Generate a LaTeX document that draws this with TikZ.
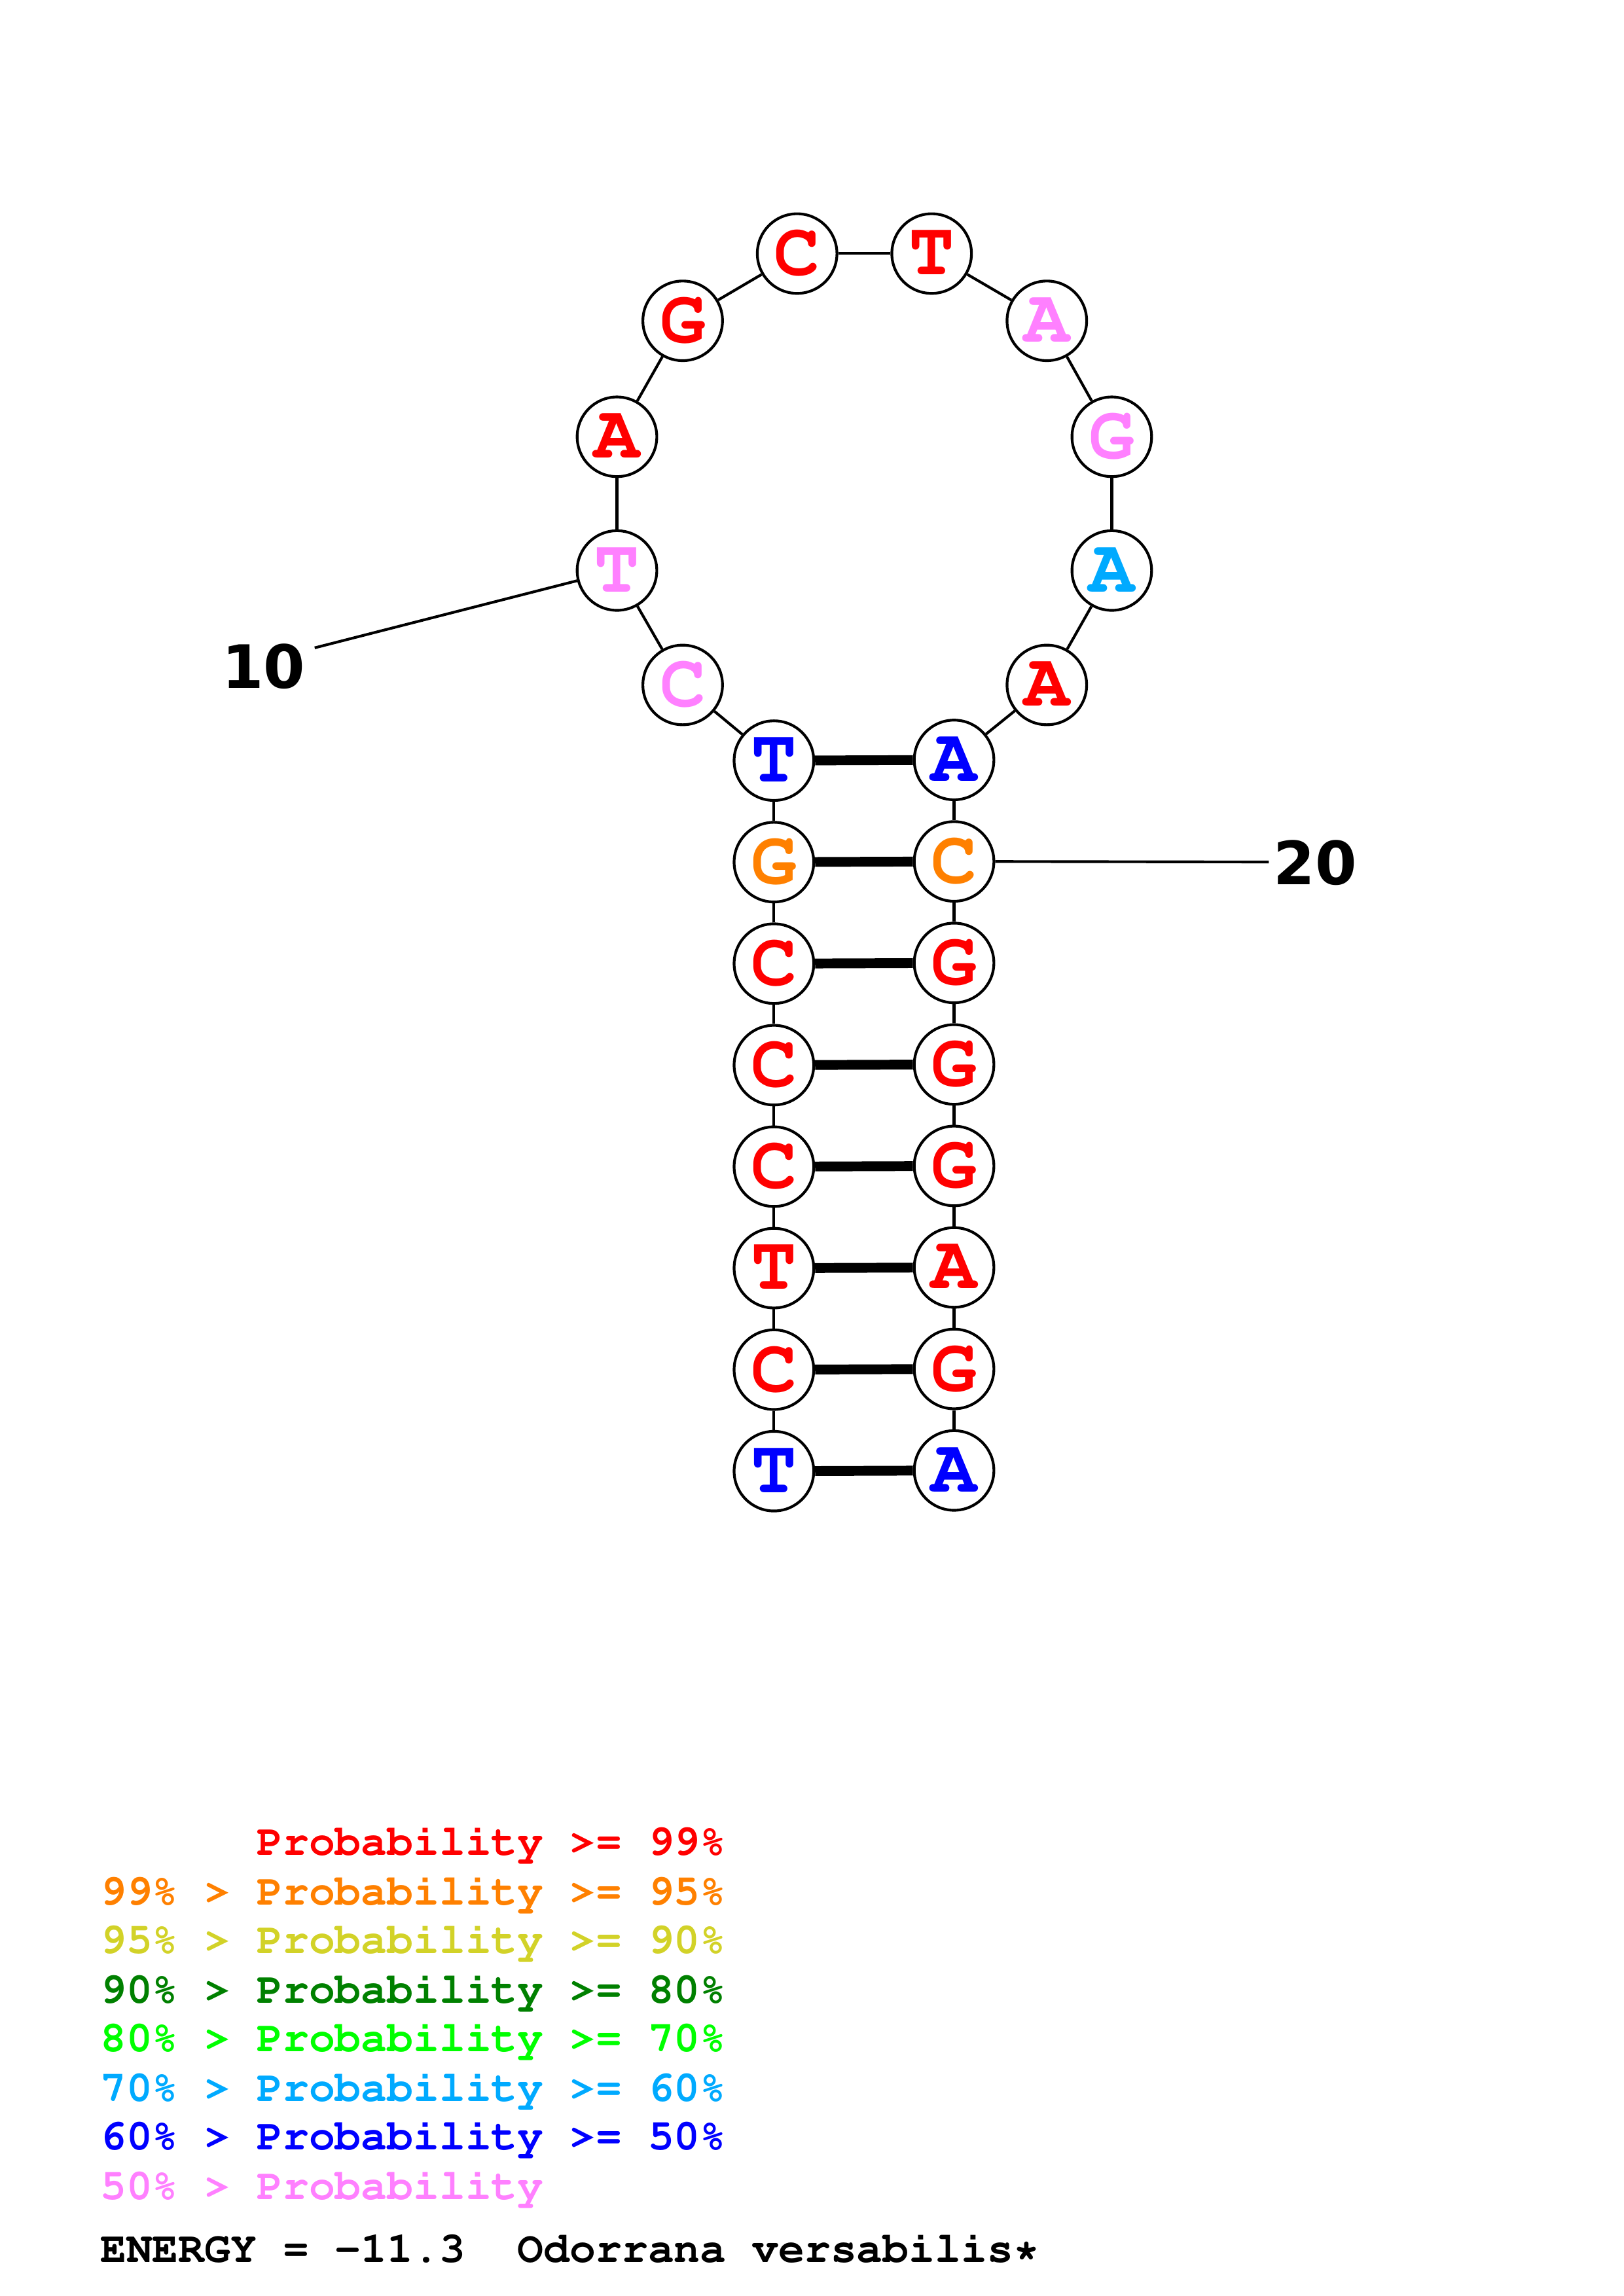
\documentclass[tikz,border=0pt]{standalone}
\usepackage[T1]{fontenc}
\usepackage{fontspec}
\newfontfamily\numfont{DejaVu Sans}
\newcommand\courb{\usefont{T1}{pcr}{b}{n}}
\usepackage{tikz}
\definecolor{pred}{RGB}{255,0,0}
\definecolor{porange}{RGB}{255,128,0}
\definecolor{pyellow}{RGB}{210,210,40}
\definecolor{pdkgreen}{RGB}{0,128,0}
\definecolor{pgreen}{RGB}{0,255,0}
\definecolor{pltblue}{RGB}{0,170,255}
\definecolor{pblue}{RGB}{0,0,255}
\definecolor{ppink}{RGB}{255,128,255}

\begin{document}
\begin{tikzpicture}[nt/.style={circle,draw,line width=1pt,minimum size=1.03cm,inner sep=0pt,font=\courb\fontsize{28}{28}\selectfont},
  lg/.style={anchor=base west,inner sep=0pt,font=\courb\fontsize{16}{16}\selectfont}]
              \useasboundingbox (0,0) rectangle (21,-29.7);
              % stem, 5' side going up
              \foreach \i/\b/\c in {1/T/pblue,2/C/pred,3/T/pred,4/C/pred,5/C/pred,6/C/pred,7/G/porange,8/T/pblue}
                \node[nt,text=\c](n\i)at(10.01,{-19.03+1.313*(\i-1)}){\b};
              % hairpin loop
              \foreach \i/\x/\y/\b/\c in {9/8.83/8.86/C/ppink,10/7.98/7.38/T/ppink,11/7.98/5.65/A/pred,12/8.83/4.15/G/pred,
                13/10.31/3.28/C/pred,14/12.05/3.28/T/pred,15/13.54/4.15/A/ppink,16/14.38/5.65/G/ppink,
                17/14.38/7.38/A/pltblue,18/13.54/8.86/A/pred}
                \node[nt,text=\c](n\i)at(\x,-\y){\b};
              % stem, 3' side going down
              \foreach \i/\b/\c in {19/A/pblue,20/C/porange,21/G/pred,22/G/pred,23/G/pred,24/A/pred,25/G/pred,26/A/pblue}
                \node[nt,text=\c](n\i)at(12.34,{-9.83-1.313*(\i-19)}){\b};
              % backbone and pairs
              \foreach \i [remember=\i as \k (initially 1)] in {2,...,26} \draw[line width=1pt](n\k)--(n\i);
              \foreach \i in {1,...,8} {\pgfmathtruncatemacro\j{27-\i} \draw[line width=3.6pt](n\i)--(n\j);}
              % numbering
              \node[font=\numfont\bfseries\fontsize{22}{22}\selectfont](l10)at(3.41,-8.62){10};
              \coordinate(t10)at(4.07,-8.38);
              \draw[line width=1pt](t10)--(n10);
              \node[font=\numfont\bfseries\fontsize{22}{22}\selectfont](l20)at(17.01,-11.16){20};
              \coordinate(t20)at(16.41,-11.15);
              \draw[line width=1pt](n20)--(t20);
              % legend
              \node[lg,text=pred](k1)at(1.29,-24.00){\phantom{99\% > }Probability >= 99\%};
              \node[lg,text=porange](k2)at(1.29,-24.64){99\% > Probability >= 95\%};
              \node[lg,text=pyellow](k3)at(1.29,-25.27){95\% > Probability >= 90\%};
              \node[lg,text=pdkgreen](k4)at(1.29,-25.91){90\% > Probability >= 80\%};
              \node[lg,text=pgreen](k5)at(1.29,-26.54){80\% > Probability >= 70\%};
              \node[lg,text=pltblue](k6)at(1.29,-27.18){70\% > Probability >= 60\%};
              \node[lg,text=pblue](k7)at(1.29,-27.81){60\% > Probability >= 50\%};
              \node[lg,text=ppink](k8)at(1.29,-28.45){50\% > Probability};
              \node[lg](en)at(1.29,-29.26){ENERGY = -11.3~~Odorrana versabilis*};
            \end{tikzpicture}
\end{document}
